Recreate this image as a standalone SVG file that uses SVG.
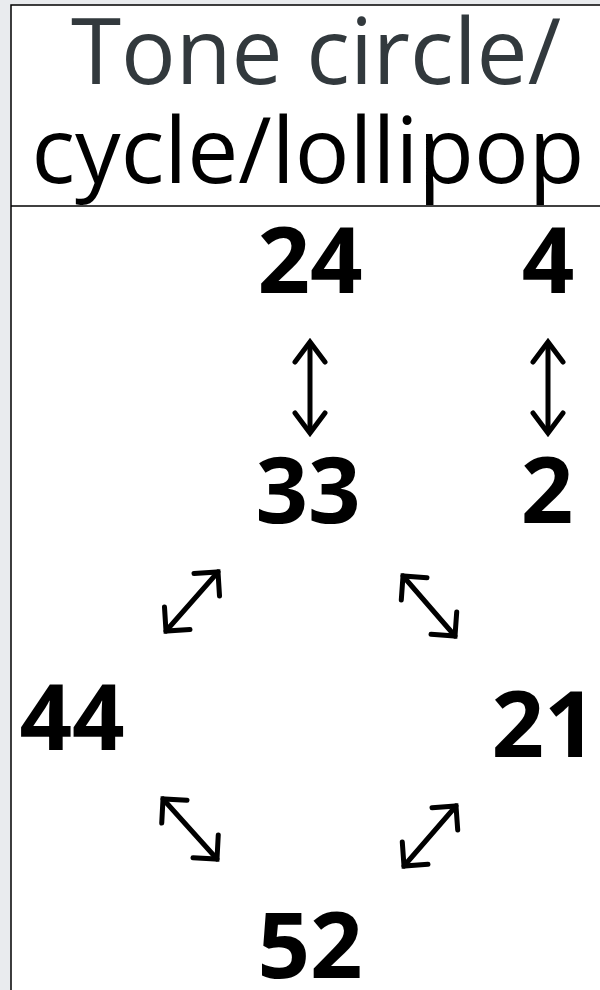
<svg xmlns="http://www.w3.org/2000/svg" width="600" height="990" viewBox="0 0 600 990">
  <style>
    .hdr { font-family: "Open Sans", "Noto Sans", sans-serif; font-size: 91px; text-anchor: middle; }
    .num { font-family: "Open Sans", "Noto Sans", sans-serif; font-weight: bold; font-size: 92px; text-anchor: middle; fill: #000; }
    .arr { fill: none; stroke: #000; stroke-width: 5; stroke-linecap: round; stroke-linejoin: round; marker-start: url(#hd); marker-end: url(#hd); }
  </style>
  <defs>
    <marker id="hd" viewBox="-24 -24 48 48" markerWidth="48" markerHeight="48" markerUnits="userSpaceOnUse" refX="0" refY="0" orient="auto-start-reverse">
      <path d="M-17,-17 L0,0 L-17,17" fill="none" stroke="#000" stroke-width="5" stroke-linecap="round" stroke-linejoin="miter"/>
    </marker>
    <marker id="hv" viewBox="-24 -24 48 48" markerWidth="48" markerHeight="48" markerUnits="userSpaceOnUse" refX="0" refY="0" orient="auto-start-reverse">
      <path d="M-20,-15 Q-8,-6 0,0 Q-8,6 -20,15" fill="none" stroke="#000" stroke-width="5" stroke-linecap="round" stroke-linejoin="miter"/>
    </marker>
  </defs>
  <rect x="0" y="0" width="600" height="990" fill="#e9ebee"/>
  <rect x="11" y="5" width="600" height="1000" fill="#fff" stroke="#000" stroke-width="1.5"/>
  <line x1="11" y1="206" x2="600" y2="206" stroke="#000" stroke-width="1.5"/>
  <g id="header">
    <text class="hdr" x="316" y="84" fill="#32393d">Tone circle/</text>
    <text class="hdr" x="308" y="183" fill="#000">cycle/lollipop</text>
  </g>
  <g id="n24"><text class="num" x="310" y="293">24</text></g>
  <g id="n4"><text class="num" x="548" y="293">4</text></g>
  <g id="n33"><text class="num" x="308" y="523">33</text></g>
  <g id="n2"><text class="num" x="547" y="523">2</text></g>
  <g id="n44"><text class="num" x="72" y="750">44</text></g>
  <g id="n21"><text class="num" x="544" y="757">21</text></g>
  <g id="n52"><text class="num" x="310" y="978">52</text></g>
  <g id="connectors">
    <path d="M310,342 L310,433" fill="none" stroke="#000" stroke-width="5" marker-start="url(#hv)" marker-end="url(#hv)"/>
    <path d="M548,342 L548,433" fill="none" stroke="#000" stroke-width="5" marker-start="url(#hv)" marker-end="url(#hv)"/>
    <path class="arr" d="M166,631 L218,572"/>
    <path class="arr" d="M403,576 L455,636"/>
    <path class="arr" d="M163,799 L217,859"/>
    <path class="arr" d="M404,866 L456,806"/>
  </g>
</svg>
